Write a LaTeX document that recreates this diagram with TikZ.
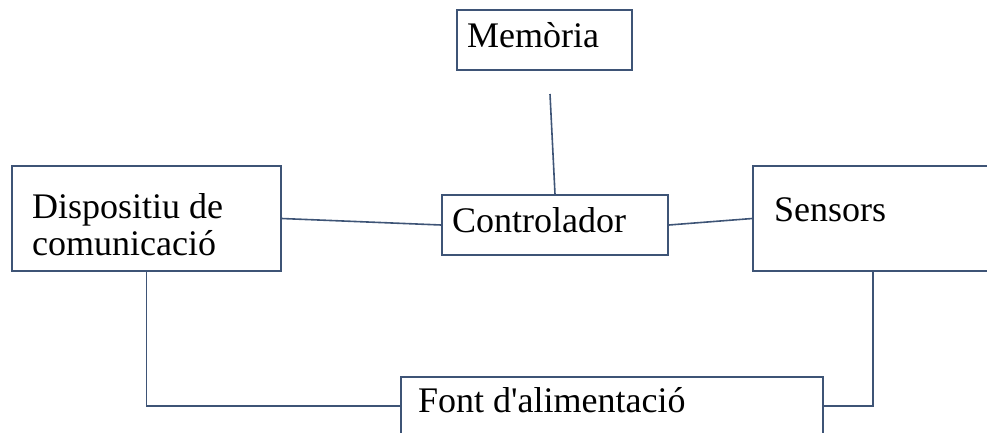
\documentclass[tikz,border=0pt]{standalone}
\usepackage{fontspec}
\setmainfont{Liberation Serif}
\usepackage{tikz}
\definecolor{edge}{RGB}{62,84,118}

\begin{document}
\begin{tikzpicture}[x=1pt,y=-1pt,
		box/.style={draw=edge,line width=1.6pt,inner sep=0pt},
		lbl/.style={inner sep=0pt,font=\fontsize{36}{37}\selectfont,align=left},
		wire/.style={edge,line width=1.6pt}]
		\clip (0,0) rectangle (987,432);
		\node[box,minimum width=175,minimum height=60] (mem) at (544.5,40) {};
		\node[box,minimum width=226,minimum height=60] (ctrl) at (555,225) {};
		\node[box,minimum width=269,minimum height=105] (disp) at (146.5,218.5) {};
		\node[box,minimum width=240,minimum height=105] (sens) at (873,218.5) {};
		\node[box,minimum width=422,minimum height=58] (font) at (612,406) {};
		\node[lbl,anchor=base west] (memtxt) at (467,47) {Memòria};
		\node[lbl,anchor=base west] (ctrltxt) at (452,232) {Controlador};
		\node[lbl,anchor=north west] (disptxt) at (32,193) {Dispositiu de\\comunicació};
		\node[lbl,anchor=base west] (senstxt) at (774,221) {Sensors};
		\node[lbl,anchor=base west] (fonttxt) at (418,412) {Font d\textquotesingle alimentació};
		\coordinate (memend) at (550,94);
		\draw[wire] (memend) -- (ctrl.north);
		\draw[wire] (disp.east) -- (ctrl.west);
		\draw[wire] (ctrl.east) -- (sens.west);
		\draw[wire] (disp.south) |- (font.west);
		\draw[wire] (sens.south) |- (font.east);
	\end{tikzpicture}
\end{document}
